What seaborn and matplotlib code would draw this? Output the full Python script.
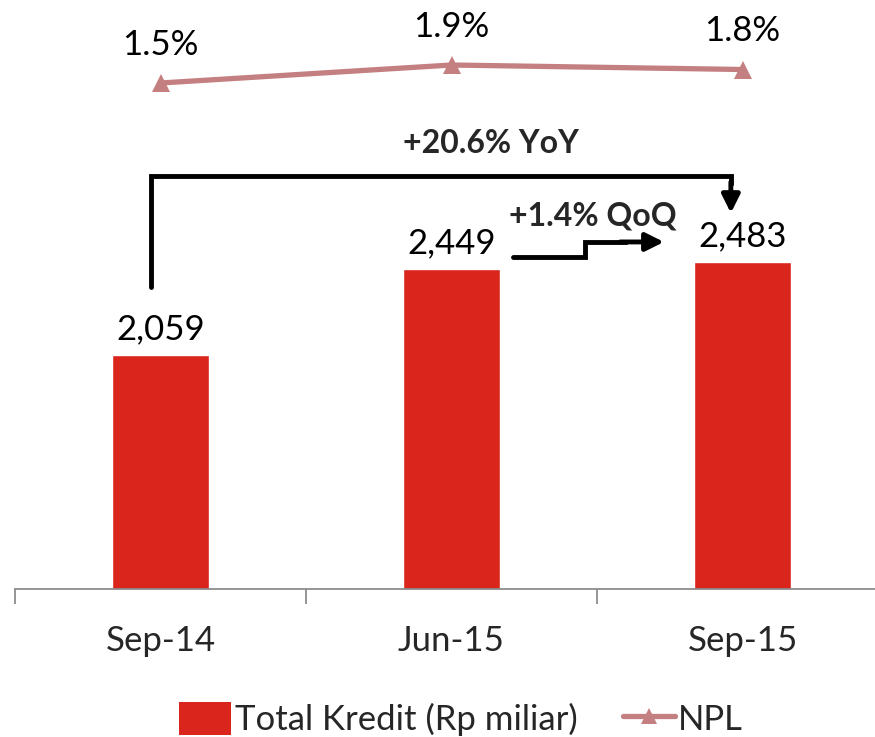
import numpy as np
import matplotlib
matplotlib.use("Agg")
import matplotlib.pyplot as plt
import seaborn as sns
from matplotlib.patches import Patch
from matplotlib.lines import Line2D

# ===================== Data =====================
periods = ["Sep-14", "Jun-15", "Sep-15"]
kredit = [2059, 2449, 2483]          # Total Kredit (Rp miliar)
npl = [1.5, 1.9, 1.8]                # NPL (%)
yoy_label = "+20.6% YoY"
qoq_label = "+1.4% QoQ"

BAR_COLOR = "#DA251D"
LINE_COLOR = "#C47F80"
AXIS_COLOR = "#8C8C8C"

sns.set_theme(style="white")
plt.rcParams["font.family"] = ["Lato", "DejaVu Sans"]

fig = plt.figure(figsize=(8.75, 7.37), dpi=100)
ax = fig.add_axes([15 / 875, 148 / 737, 873 / 875, 589 / 737])
ax.set_facecolor("none")

x = np.arange(len(periods))
sns.barplot(x=x, y=kredit, color=BAR_COLOR, width=0.33, saturation=1, ax=ax)
ax.set_xlim(-0.5, 2.5)
ax.set_ylim(1000, 3668)

# value labels on bars
for i, v in enumerate(kredit):
    ax.annotate(f"{v:,}", (i, v), xytext=(0, 7), textcoords="offset points",
                ha="center", va="bottom", fontsize=25, color="black")

# axis styling
for s in ["top", "right", "left"]:
    ax.spines[s].set_visible(False)
ax.spines["bottom"].set_color(AXIS_COLOR)
ax.spines["bottom"].set_linewidth(1.3)
ax.set_yticks([])
ax.set_xticks(x)
ax.set_xticklabels(periods, fontsize=25)
ax.tick_params(axis="x", which="major", bottom=True, length=0, pad=26)
ax.set_xticks(np.arange(len(periods) + 1) - 0.5, minor=True)
ax.tick_params(axis="x", which="minor", bottom=True, length=11, width=1.3,
               color=AXIS_COLOR, direction="out")

# NPL line on secondary axis
ax2 = ax.twinx()
sns.lineplot(x=x, y=npl, color=LINE_COLOR, linewidth=3.8, marker="^", markersize=13,
             markeredgewidth=0, ax=ax2, legend=False)
ax2.set_ylim(-9.74, 3.344)
ax2.set_xlim(-0.5, 2.5)
ax2.axis("off")
for i, v in enumerate(npl):
    ax2.annotate(f"{v:.1f}%", (i, v), xytext=(0, 16), textcoords="offset points",
                 ha="center", va="bottom", fontsize=25, color="black")

# YoY bracket
yb = kredit[0] + 310
yt = kredit[2] + 390
ax.plot([-0.034, -0.034, 1.96, 1.96], [yb, yt, yt, yt - 40], color="black",
        lw=3.5, solid_joinstyle="miter", clip_on=False)
ax.annotate("", xy=(1.96, yt - 170), xytext=(1.96, yt - 30),
            arrowprops=dict(arrowstyle="-|>,head_length=0.9,head_width=0.45", color="black", lw=3.5,
                            shrinkA=0, shrinkB=0))
ax.text(1.134, yt + 80, yoy_label, ha="center", va="bottom", fontsize=23, fontweight="bold")

# QoQ step arrow
yq = kredit[1] + 55
ax.plot([1.213, 1.46, 1.46, 1.6], [yq, yq, yq + 68, yq + 68], color="black",
        lw=3.5, solid_joinstyle="miter")
ax.annotate("", xy=(1.73, yq + 68), xytext=(1.58, yq + 68),
            arrowprops=dict(arrowstyle="-|>,head_length=0.9,head_width=0.45", color="black", lw=3.5,
                            shrinkA=0, shrinkB=0))
ax.text(1.485, yq + 120, qoq_label, ha="center", va="bottom", fontsize=23, fontweight="bold")

# legend
handles = [Patch(facecolor=BAR_COLOR, edgecolor="none", label="Total Kredit (Rp miliar)"),
           Line2D([0], [0], color=LINE_COLOR, lw=3.8, marker="^", markersize=11,
                  markeredgewidth=0, label="NPL")]
fig.legend(handles=handles, loc="center", bbox_to_anchor=(0.527, 18 / 737), ncol=2, frameon=False,
           fontsize=25, handlelength=1.5, handleheight=1.1, handletextpad=0.1, columnspacing=1.3)

fig.savefig("out.png", dpi=100)
